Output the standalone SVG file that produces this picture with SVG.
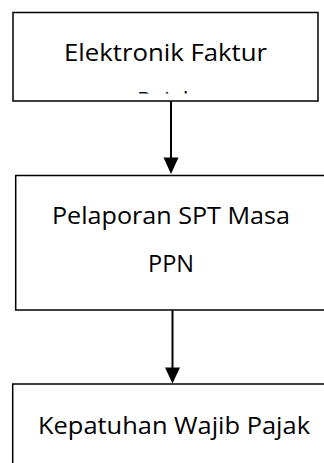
<svg xmlns="http://www.w3.org/2000/svg" width="324" height="463" viewBox="0 0 324 463">
  <style>
    .box { fill: #ffffff; stroke: #000000; stroke-width: 1.5; }
    .label { font-family: "Open Sans", "Noto Sans", "Liberation Sans", sans-serif; font-size: 24.5px; fill: #000000; }
    .wire { stroke: #000000; stroke-width: 2; fill: none; }
    .head { fill: #000000; stroke: none; }
  </style>
  <defs>
    <!-- text area of the first box: the second line is cut off by the frame -->
    <clipPath id="clip-efaktur">
      <rect x="13" y="12.5" width="305" height="81"/>
    </clipPath>
  </defs>
  <rect width="324" height="463" fill="#ffffff"/>

  <g id="node-efaktur">
    <rect class="box" x="13" y="12.5" width="305" height="88.5"/>
    <g clip-path="url(#clip-efaktur)">
      <text class="label" x="64" y="61" textLength="203" lengthAdjust="spacingAndGlyphs">Elektronik Faktur</text>
      <text class="label" x="137" y="109" textLength="58" lengthAdjust="spacingAndGlyphs">Pajak</text>
    </g>
  </g>

  <g id="node-spt">
    <rect class="box" x="15.7" y="175.5" width="330" height="134.5"/>
    <text class="label" x="52" y="224" textLength="238" lengthAdjust="spacingAndGlyphs">Pelaporan SPT Masa</text>
    <text class="label" x="148" y="271.5" textLength="46" lengthAdjust="spacingAndGlyphs">PPN</text>
  </g>

  <g id="node-kepatuhan">
    <rect class="box" x="12.7" y="384" width="340" height="100"/>
    <text class="label" x="38" y="434" textLength="272" lengthAdjust="spacingAndGlyphs">Kepatuhan Wajib Pajak</text>
  </g>

  <g id="connectors">
    <line class="wire" x1="171" y1="101" x2="171" y2="159"/>
    <polygon class="head" points="163.5,157.5 178.5,157.5 171,174"/>
    <line class="wire" x1="172.5" y1="310" x2="172.5" y2="369"/>
    <polygon class="head" points="165,367.5 180,367.5 172.5,383.5"/>
  </g>
</svg>
